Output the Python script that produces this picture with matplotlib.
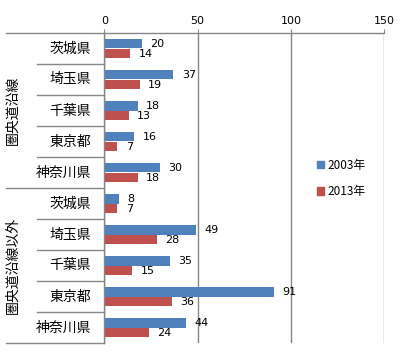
import matplotlib.pyplot as plt
import numpy as np
from matplotlib.transforms import blended_transform_factory
from matplotlib.patches import Patch

plt.rcParams['font.family'] = ['Noto Sans CJK JP', 'DejaVu Sans']

groups = ["圏央道沿線", "圏央道沿線以外"]
prefs = ["茨城県", "埼玉県", "千葉県", "東京都", "神奈川県"]
vals_2003 = [20, 37, 18, 16, 30, 8, 49, 35, 91, 44]
vals_2013 = [14, 19, 13, 7, 18, 7, 28, 15, 36, 24]
series = ["2003年", "2013年"]

blue = "#4F81BD"
red = "#C0504D"
line_c = "#868686"

fig = plt.figure(figsize=(4.0, 3.54), dpi=100)
ax = fig.add_axes([104.3 / 400, 1 - 343 / 354, 280 / 400, 310 / 354])

n = len(vals_2003)
y = np.arange(n)
h = 0.32
ax.barh(y - h / 2, vals_2003, height=h, color=blue, label=series[0])
ax.barh(y + h / 2, vals_2013, height=h, color=red, label=series[1])

# data labels
for yi, v in zip(y, vals_2003):
    ax.annotate(str(v), (v, yi - h / 2), xytext=(6, 0), textcoords="offset points",
                va="center", ha="left", fontsize=8, family="DejaVu Sans")
for yi, v in zip(y, vals_2013):
    ax.annotate(str(v), (v, yi + h / 2), xytext=(6, -0.5), textcoords="offset points",
                va="center", ha="left", fontsize=8, family="DejaVu Sans")

ax.set_xlim(0, 150)
ax.set_ylim(n - 0.5, -0.5)
ax.set_xticks([0, 50, 100, 150])
ax.xaxis.tick_top()
ax.tick_params(axis="x", length=3, color=line_c, labelsize=8, pad=2)
for lbl in ax.get_xticklabels():
    lbl.set_family("DejaVu Sans")
ax.set_yticks([])
ax.grid(axis="x", color=line_c, linewidth=1)
ax.set_axisbelow(True)
for s in ["right", "bottom"]:
    ax.spines[s].set_visible(False)
for s in ["left", "top"]:
    ax.spines[s].set_color(line_c)
    ax.spines[s].set_linewidth(1)

# category labels and separator lines
tr = blended_transform_factory(fig.transFigure, ax.transData)
for i in range(n):
    ax.text(91 / 400, i, prefs[i % 5], transform=tr, ha="right", va="center", fontsize=10)
for b in range(n + 1):
    x0 = 6 / 400 if b % 5 == 0 else 37 / 400
    ax.plot([x0, 104.3 / 400], [b - 0.5, b - 0.5], transform=tr, color=line_c,
            linewidth=1, clip_on=False)
for g, name in enumerate(groups):
    ax.text(13 / 400, g * 5 + 2, name, transform=tr, rotation=90, ha="center",
            va="center", fontsize=10)

handles = [Patch(color=blue), Patch(color=red)]
fig.legend(handles, series, loc="center left", bbox_to_anchor=(306 / 400, 1 - 178.5 / 354),
           frameon=False, fontsize=8.5, handlelength=0.6, handleheight=0.6,
           handletextpad=0.3, labelspacing=1.15)

fig.savefig("out.png", dpi=100)
